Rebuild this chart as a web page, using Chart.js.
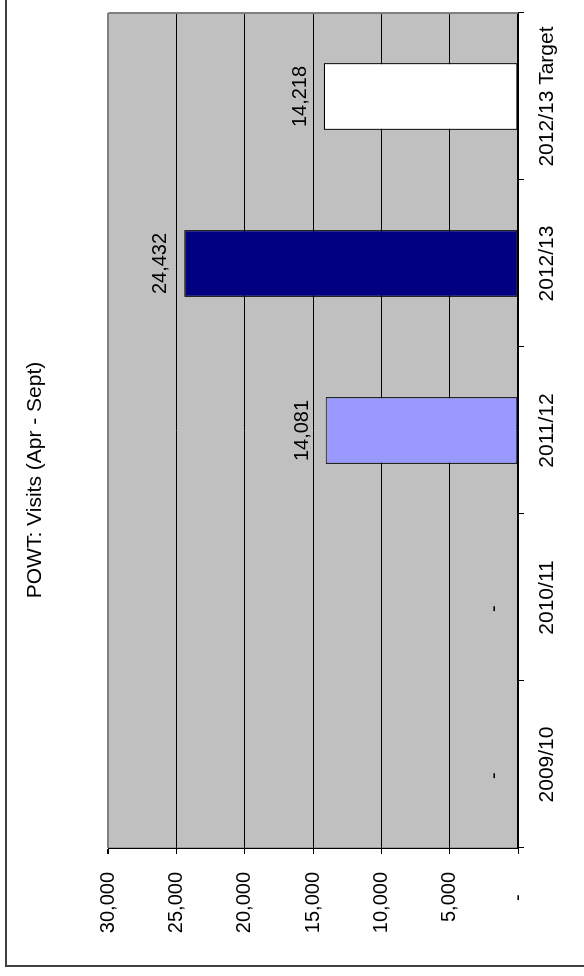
<!DOCTYPE html>
<html>
<head>
<meta charset="utf-8">
<title>POWT: Visits (Apr - Sept)</title>
<script src="https://cdn.jsdelivr.net/npm/chart.js@4.4.0/dist/chart.umd.min.js"></script>
<style>
  html, body { margin: 0; padding: 0; background: #fff; overflow: hidden; }
  /* the chart is drawn upright and then turned 90deg, like the original */
  #marco {
    position: absolute; left: 0; top: 0;
    width: 976px; height: 584px;
    transform-origin: 0 0;
    transform: translateY(976px) rotate(-90deg);
  }
</style>
</head>
<body>
<div id="marco"><canvas id="grafico" width="976" height="584"></canvas></div>
<script>
// data
const titulo = "POWT: Visits (Apr - Sept)";
const categorias = ["2009/10", "2010/11", "2011/12", "2012/13", "2012/13 Target"];
const visitas = [0, 0, 14081, 24432, 14218];
const coloresBarra = ["#9999ff", "#9999ff", "#9999ff", "#000080", "#ffffff"];
const ejeMin = 0;
const ejeMax = 30000;
const ejePaso = 5000;

const fuente = '"Liberation Sans", Arial, sans-serif';
Chart.defaults.font.family = fuente;
Chart.defaults.color = "#000";

// accounting style: zero shows as a dash with two digit spaces after it
function formato(v) {
  if (v === 0) return "-\u2007\u2007";
  return v.toLocaleString("en-US");
}

// grey plot area, grey frame on the outer edges, and the page frame
const fondoPlot = {
  id: "fondoPlot",
  beforeDraw(chart) {
    const { ctx, chartArea: a } = chart;
    ctx.save();
    ctx.fillStyle = "#c0c0c0";
    ctx.fillRect(a.left, a.top, a.right - a.left, a.bottom - a.top);
    ctx.restore();
  },
  afterDraw(chart) {
    const { ctx, chartArea: a } = chart;
    ctx.save();
    ctx.strokeStyle = "#808080";
    ctx.lineWidth = 2;
    ctx.beginPath();
    ctx.moveTo(a.right, a.top);
    ctx.lineTo(a.right, a.bottom);
    ctx.stroke();
    // outer frame (only left and bottom edges show on the page)
    ctx.strokeStyle = "#404040";
    ctx.lineWidth = 2;
    ctx.beginPath();
    ctx.moveTo(chart.width, 6);
    ctx.lineTo(10, 6);
    ctx.lineTo(10, chart.height);
    ctx.stroke();
    ctx.restore();
  }
};

// value labels above each bar
const etiquetas = {
  id: "etiquetas",
  afterDatasetsDraw(chart) {
    const { ctx } = chart;
    const meta = chart.getDatasetMeta(0);
    ctx.save();
    ctx.font = "20px " + fuente;
    ctx.fillStyle = "#000";
    ctx.textAlign = "center";
    ctx.textBaseline = "alphabetic";
    meta.data.forEach((barra, i) => {
      ctx.fillText(formato(visitas[i]), barra.x, barra.y - 18);
    });
    ctx.restore();
  }
};

const ctx = document.getElementById("grafico");

new Chart(ctx, {
  type: "bar",
  data: {
    labels: categorias,
    datasets: [{
      data: visitas,
      backgroundColor: coloresBarra,
      borderColor: "#000",
      borderWidth: visitas.map(v => (v === 0 ? 0 : 1.2)),
      borderSkipped: false,
      barPercentage: 0.4,
      categoryPercentage: 1
    }]
  },
  options: {
    responsive: false,
    animation: false,
    events: [],
    layout: { padding: { left: 29, right: 13, top: 0, bottom: 0 } },
    plugins: {
      legend: { display: false },
      tooltip: { enabled: false },
      title: {
        display: true,
        text: titulo,
        color: "#000",
        font: { size: 21, weight: "normal" },
        padding: { top: 23, bottom: 60 }
      }
    },
    scales: {
      x: {
        grid: {
          offset: true,
          drawOnChartArea: false,
          drawTicks: true,
          tickLength: 6,
          color: "#000"
        },
        border: { color: "#000", width: 1.2 },
        ticks: {
          font: { size: 21 },
          color: "#000",
          padding: 11,
          maxRotation: 0,
          autoSkip: false
        },
        afterFit(scale) { scale.height = 66; }
      },
      y: {
        min: ejeMin,
        max: ejeMax,
        grid: {
          color: c => (c.tick && c.tick.value === ejeMax ? "#808080" : "#000"),
          lineWidth: c => (c.tick && c.tick.value === ejeMax ? 2 : 1),
          tickColor: "#000",
          tickLength: 6
        },
        border: { color: "#000", width: 1.2 },
        ticks: {
          stepSize: ejePaso,
          font: { size: 20 },
          color: "#000",
          padding: 18,
          callback: v => formato(v)
        },
        afterFit(scale) { scale.width = 99; }
      }
    }
  },
  plugins: [fondoPlot, etiquetas]
});
</script>
</body>
</html>
